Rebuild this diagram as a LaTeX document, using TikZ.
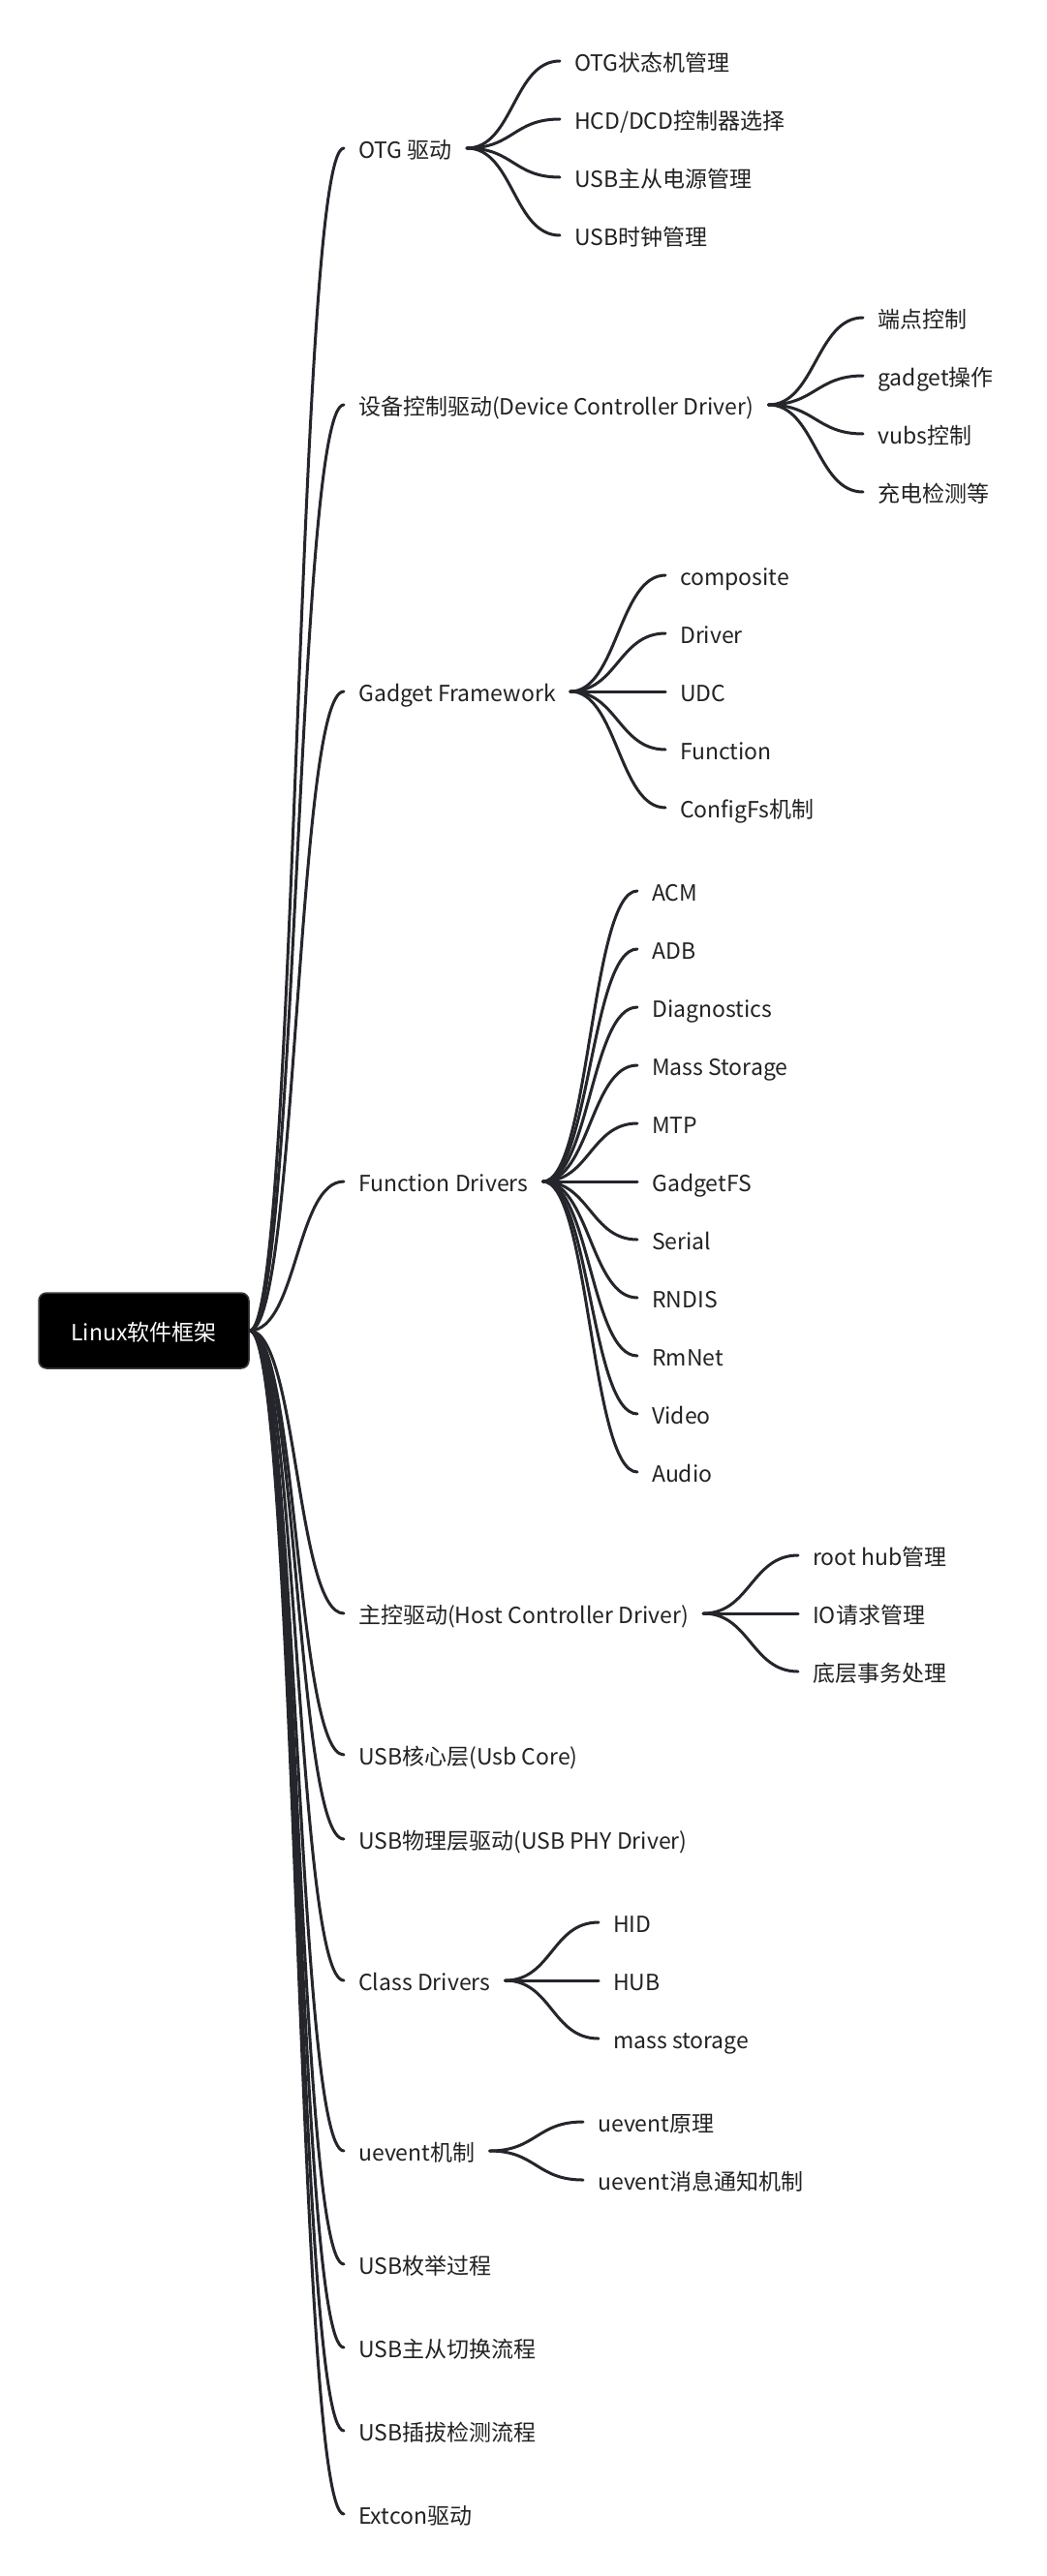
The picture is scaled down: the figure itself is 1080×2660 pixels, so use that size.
\documentclass[tikz,border=0pt]{standalone}
\usepackage{fontspec}
\setmainfont{Noto Sans CJK SC}
\definecolor{ink}{RGB}{36,38,44}
\definecolor{txt}{RGB}{34,34,34}
\definecolor{rootedge}{RGB}{60,60,64}
\begin{document}
\begin{tikzpicture}[x=1pt,y=-1pt,
  every node/.style={font=\fontsize{23}{28}\selectfont, text=txt, inner sep=0pt,
    text height=22pt, text depth=1pt, anchor=west},
  rootbox/.style={fill=black, draw=rootedge, line width=1.5pt, rounded corners=8pt,
    minimum width=217pt, minimum height=78pt, text=white, anchor=center},
  link/.style={draw=ink, line width=3pt, line cap=round}
]
\fill[white] (0,0) rectangle (1080,2660);
\useasboundingbox (0,0) rectangle (1080,2660);

\node[rootbox] (root) at (148.5,1374) {Linux软件框架};

% level 1
\node (a1) at (370,153) {OTG 驱动};
\node (a2) at (370,418) {设备控制驱动(Device Controller Driver)};
\node (a3) at (370,714) {Gadget Framework};
\node (a4) at (370,1220) {Function Drivers};
\node (a5) at (370,1666) {主控驱动(Host Controller Driver)};
\node (a6) at (370,1812) {USB核心层(Usb Core)};
\node (a7) at (370,1899) {USB物理层驱动(USB PHY Driver)};
\node (a8) at (370,2045) {Class Drivers};
\node (a9) at (370,2221) {uevent机制};
\node (a10) at (370,2338) {USB枚举过程};
\node (a11) at (370,2424) {USB主从切换流程};
\node (a12) at (370,2510) {USB插拔检测流程};
\node (a13) at (370,2596) {Extcon驱动};

\foreach \n in {a1,a2,a3,a4,a5,a6,a7,a8,a9,a10,a11,a12,a13}
  \draw[link] (root.east) .. controls +(49,0) and +(-49,0) .. ([xshift=-15pt]\n.west);

% level 2
\foreach \t [count=\i from 0] in {OTG状态机管理,HCD/DCD控制器选择,USB主从电源管理,USB时钟管理}{
  \node (b1c\i) at (593,63+60*\i) {\t};
  \draw[link] ([xshift=15pt]a1.east) .. controls +(48,0) and +(-48,0) .. ([xshift=-15pt]b1c\i.west);
}
\foreach \t [count=\i from 0] in {端点控制,gadget操作,vubs控制,充电检测等}{
  \node (b2c\i) at (906,328+60*\i) {\t};
  \draw[link] ([xshift=15pt]a2.east) .. controls +(48,0) and +(-48,0) .. ([xshift=-15pt]b2c\i.west);
}
\foreach \t [count=\i from 0] in {composite,Driver,UDC,Function,ConfigFs机制}{
  \node (b3c\i) at (702,594+60*\i) {\t};
  \draw[link] ([xshift=15pt]a3.east) .. controls +(48,0) and +(-48,0) .. ([xshift=-15pt]b3c\i.west);
}
\foreach \t [count=\i from 0] in {ACM,ADB,Diagnostics,Mass Storage,MTP,GadgetFS,Serial,RNDIS,RmNet,Video,Audio}{
  \node (b4c\i) at (673,920+60*\i) {\t};
  \draw[link] ([xshift=15pt]a4.east) .. controls +(48,0) and +(-48,0) .. ([xshift=-15pt]b4c\i.west);
}
\foreach \t [count=\i from 0] in {root hub管理,IO请求管理,底层事务处理}{
  \node (b5c\i) at (839,1606+60*\i) {\t};
  \draw[link] ([xshift=15pt]a5.east) .. controls +(48,0) and +(-48,0) .. ([xshift=-15pt]b5c\i.west);
}
\foreach \t [count=\i from 0] in {HID,HUB,mass storage}{
  \node (b8c\i) at (633,1985+60*\i) {\t};
  \draw[link] ([xshift=15pt]a8.east) .. controls +(48,0) and +(-48,0) .. ([xshift=-15pt]b8c\i.west);
}
\foreach \t [count=\i from 0] in {uevent原理,uevent消息通知机制}{
  \node (b9c\i) at (617,2191+60*\i) {\t};
  \draw[link] ([xshift=15pt]a9.east) .. controls +(48,0) and +(-48,0) .. ([xshift=-15pt]b9c\i.west);
}
\end{tikzpicture}
\end{document}
